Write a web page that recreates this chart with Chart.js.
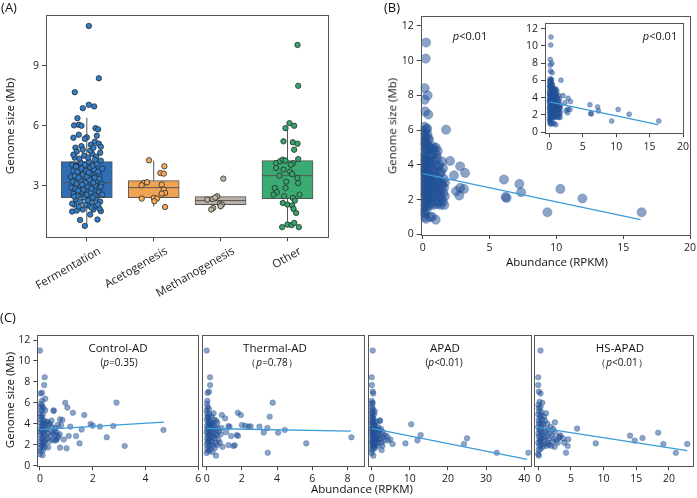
<!DOCTYPE html>
<html><head><meta charset="utf-8">
<script src="https://cdn.jsdelivr.net/npm/chart.js@4.4.1/dist/chart.umd.min.js"></script>
<style>
html,body{margin:0;padding:0;background:#fff;}
#wrap{position:relative;width:697px;height:498px;overflow:hidden;font-family:'Open Sans',sans-serif;color:#111;}
canvas{position:absolute;left:0;top:0;}
.t{position:absolute;white-space:nowrap;transform:translate(-50%,-50%);line-height:1;z-index:10;}
.v{transform:translate(-50%,-50%) rotate(-90deg);}
</style></head><body><div id="wrap"></div>
<script>
// ---------------- DATA ----------------
// Panel A: box plots
const categories = ['Fermentation','Acetogenesis','Methanogenesis','Other'];
const boxQ1 = [2.4, 2.4, 2.05, 2.35];
const boxMedian = [3.15, 2.9, 2.25, 3.5];
const boxQ3 = [4.2, 3.25, 2.45, 4.25];
const whiskerLow = [0.95, 1.95, 1.8, 0.9];
const whiskerHigh = [6.4, 4.25, 2.47, 5.8];
// strip points: [jitter, genome size]
const fermentationPts = [
 [0.03,11.0],[0.18,8.38],[-0.18,7.68],[0.03,7.05],[0.11,6.97],[-0.06,6.88],[-0.14,6.38],[-0.19,6.02],[-0.12,6.05],[-0.08,6.0],
 [0.13,5.88],[0.17,5.82],[-0.2,5.4],[-0.12,5.55],[0.0,5.42],[-0.03,5.35],[0.15,5.5],[0.12,5.2],[0.18,5.1],[0.06,5.05],
 [-0.08,4.98],[0.21,4.95],[-0.17,4.9],
 [-0.03,0.98],[0.16,1.3],[-0.1,1.28],[0.05,1.55],[-0.22,1.7],[-0.15,1.75],[0.21,1.72],[0.19,1.85],[-0.06,1.8],[0.1,1.8],[-0.19,2.05],[0.02,2.0],
 [-0.22,2.1],[-0.16,2.3],[-0.1,2.2],[-0.04,2.4],[0.02,2.25],[0.08,2.15],[0.14,2.35],[0.2,2.2],
 [-0.2,2.6],[-0.14,2.5],[-0.07,2.7],[0.0,2.55],[0.06,2.65],[0.12,2.5],[0.18,2.7],[0.23,2.55],
 [-0.23,2.9],[-0.17,2.85],[-0.11,3.0],[-0.05,2.8],[0.01,2.95],[0.07,2.85],[0.13,3.0],[0.19,2.9],
 [-0.21,3.2],[-0.15,3.1],[-0.09,3.25],[-0.02,3.15],[0.04,3.3],[0.1,3.15],[0.16,3.25],[0.22,3.1],
 [-0.24,3.45],[-0.18,3.5],[-0.12,3.4],[-0.06,3.55],[0.0,3.45],[0.06,3.6],[0.12,3.4],[0.18,3.55],
 [-0.2,3.75],[-0.14,3.7],[-0.08,3.85],[-0.01,3.75],[0.05,3.9],[0.11,3.8],[0.17,3.7],[0.23,3.85],
 [-0.22,4.05],[-0.16,4.0],[-0.09,4.15],[-0.03,4.05],[0.03,4.2],[0.09,4.0],[0.15,4.1],[0.21,4.25],
 [-0.18,4.4],[-0.11,4.35],[-0.04,4.5],[0.02,4.4],[0.08,4.6],[0.14,4.45],[0.2,4.65],
 [-0.15,4.7],[-0.06,4.8],[0.05,4.75],[0.1,4.9],[-0.12,1.95],[0.07,1.9],[0.14,2.0],[-0.02,2.05],
 [-0.19,2.45],[0.17,2.05],[-0.13,2.75],[0.09,2.4],[0.21,2.95],[-0.07,3.05],[0.03,3.65],[-0.16,3.95],[0.19,3.35],[0.12,4.3],[-0.2,4.55]
];
const acetogenesisPts = [
 [-0.07,4.27],[0.16,3.97],[0.1,3.63],[0.15,3.6],[-0.15,3.13],[-0.1,3.17],[-0.18,3.02],[0.12,3.05],
 [0.15,2.8],[0.17,2.63],[0.12,2.6],[-0.18,2.35],[0.0,2.38],[0.05,2.35],[0.01,2.22],[0.17,1.93]
];
const methanogenesisPts = [
 [0.04,3.35],[-0.12,2.33],[-0.05,2.47],[-0.08,2.4],[-0.2,2.3],[-0.01,2.1],[-0.11,1.88],[-0.14,1.8],[0.02,2.05],[0.0,1.97]
];
const otherPts = [
 [0.15,10.05],[0.16,8.0],[0.03,6.13],[0.1,6.0],[-0.03,5.88],[-0.06,5.22],[0.08,5.17],[0.15,5.1],[0.1,4.8],[0.16,4.33],
 [-0.17,4.13],[-0.11,4.22],[-0.07,4.3],[-0.03,4.25],[0.08,4.12],[-0.17,3.88],[-0.06,3.8],[0.04,3.7],[0.07,3.58],[0.15,3.38],
 [0.16,3.13],[-0.02,3.2],[-0.19,2.88],[-0.16,2.67],[-0.21,2.55],[-0.03,2.88],[0.08,2.38],[0.18,2.55],[-0.05,2.47],[-0.07,2.13],
 [0.0,2.05],[0.07,2.0],[0.09,1.83],[0.13,1.63],[-0.08,0.92],[0.0,1.05],[0.06,1.02],[0.1,1.13],[0.17,0.92],[0.11,2.25],[-0.12,3.5],[0.05,4.05]
];
const ticksA = [3, 6, 9];

// Panel B: [abundance RPKM, genome size Mb]
const allSamples = [
 [0.03,1.55],[0.08,1.85],[0.04,2.15],[0.1,2.45],[0.02,2.75],[0.07,3.0],[0.05,3.3],[0.12,3.55],[0.03,3.85],[0.09,4.15],[0.06,4.45],[0.02,4.75],[0.11,5.05],[0.04,5.35],[0.08,5.65],[0.05,5.95],[0.13,6.2],
 [0.18,1.6],[0.22,1.95],[0.17,2.3],[0.25,2.6],[0.2,2.9],[0.16,3.2],[0.24,3.45],[0.19,3.75],[0.27,4.05],[0.21,4.3],[0.15,4.6],[0.26,4.9],[0.2,5.2],[0.23,5.5],[0.18,5.8],[0.28,6.05],
 [0.33,1.75],[0.38,2.05],[0.31,2.4],[0.4,2.7],[0.35,3.05],[0.42,3.35],[0.32,3.65],[0.37,3.95],[0.44,4.25],[0.34,4.55],[0.39,4.85],[0.3,5.15],[0.41,5.45],[0.36,5.75],[0.33,6.1],
 [0.48,1.65],[0.52,2.2],[0.47,2.5],[0.55,2.85],[0.5,3.15],[0.46,3.5],[0.53,3.85],[0.49,4.2],[0.56,4.55],[0.51,5.0],[0.47,5.5],
 [0.62,1.8],[0.66,2.1],[0.6,2.45],[0.7,2.95],[0.64,3.25],[0.68,3.7],[0.61,4.1],[0.72,4.5],[0.65,4.95],
 [0.78,1.7],[0.82,2.3],[0.75,2.7],[0.85,3.05],[0.8,3.4],[0.77,3.8],[0.88,4.3],[0.83,4.85],[0.79,5.05],
 [0.92,1.9],[0.97,2.2],[0.9,2.6],[1.0,3.1],[0.95,3.6],[0.93,4.0],[1.02,4.6],[0.98,5.0],
 [1.07,1.75],[1.12,2.4],[1.05,2.8],[1.1,3.3],[1.15,3.9],[1.08,4.4],[1.13,4.8],
 [1.22,1.85],[1.27,2.2],[1.2,2.6],[1.25,3.0],[1.3,3.5],[1.23,4.0],
 [1.35,1.7],[1.4,2.1],[1.33,2.5],[1.42,2.95],[1.37,3.6],[1.45,4.2],
 [1.5,1.9],[1.55,2.4],[1.48,2.8],[1.58,3.2],[1.52,3.8],
 [1.62,1.7],[1.66,2.2],[1.6,2.7],[1.68,3.0],
 [0.06,1.3],[0.14,1.2],[0.27,1.4],[0.1,2.6],[0.15,3.9],[0.07,4.3],[0.29,3.3],[0.12,5.3],[0.01,3.6],[0.24,2.1],
 [0.25,11.04],[0.22,10.12],[0.15,8.42],[0.37,8.0],[0.15,7.75],[0.18,7.08],[0.42,6.9],[1.75,6.03],[2.05,4.23],[2.8,3.92],
 [3.17,3.54],[2.34,3.4],[2.5,2.49],[2.74,2.24],[3.09,2.62],[2.8,2.68],[6.08,3.16],[6.28,2.1],[6.2,2.16],[7.23,2.91],
 [7.36,2.43],[9.33,1.28],[10.3,2.62],[11.95,2.07],[16.38,1.28],[0.25,0.9],[0.55,1.0],[0.7,1.02],[0.97,0.85],[0.12,1.0]
];
const fitAll = [[0, 3.5], [16.3, 0.85]];
const ticksBy = [0, 2, 4, 6, 8, 10, 12];
const ticksBx = [0, 5, 10, 15, 20];

// Panel C
const controlAD = [
 [0.0,1.1],[0.03,1.4],[0.01,1.7],[0.05,2.0],[0.02,2.3],[0.06,2.6],[0.0,2.9],[0.04,3.2],[0.02,3.5],[0.07,3.8],[0.01,4.1],[0.05,4.4],[0.03,4.7],[0.0,5.0],[0.06,5.3],[0.02,5.6],[0.04,5.9],[0.08,6.2],
 [0.1,1.0],[0.12,1.5],[0.09,1.9],[0.13,2.2],[0.1,2.5],[0.14,2.8],[0.11,3.1],[0.08,3.4],[0.12,3.7],[0.1,4.0],[0.14,4.3],[0.09,4.6],[0.11,4.9],[0.13,5.5],
 [0.18,1.8],[0.2,2.4],[0.22,2.9],[0.17,3.3],[0.21,3.6],[0.19,4.0],[0.23,4.2],[0.2,5.3],[0.16,2.1],
 [0.28,2.6],[0.3,3.1],[0.26,3.5],[0.33,3.9],[0.29,4.2],[0.35,2.3],[0.31,1.75],
 [0.4,2.8],[0.42,3.3],[0.45,3.7],[0.38,4.0],[0.48,2.5],[0.5,3.05],[0.44,4.3],[0.52,5.3],
 [0.56,2.4],[0.6,2.9],[0.58,3.6],[0.63,3.2],[0.66,2.6],[0.7,2.8],[0.68,3.9],[0.62,2.45],
 [0.0,11.0],[0.18,8.44],[0.16,7.7],[0.08,6.97],[0.02,6.9],[0.2,6.4],[0.09,5.7],[0.96,6.0],[1.04,5.54],[1.25,5.06],
 [1.68,4.84],[2.9,6.02],[1.92,3.98],[2.0,3.82],[2.27,3.73],[2.78,3.79],[4.68,3.41],[3.21,1.88],[2.53,2.71],[1.5,2.13],
 [1.37,2.83],[1.01,1.66],[0.76,1.72],[1.09,2.83],[1.15,3.73],[0.8,3.85],[0.85,4.36],[0.76,4.43],[0.52,5.22],[0.54,3.31],
 [1.58,3.45],[0.9,2.5],[0.75,3.0]
];
const fitControlAD = [[0, 3.45], [4.7, 4.15]];
const thermalAD = [
 [0.0,1.2],[0.03,1.6],[0.01,2.0],[0.05,2.3],[0.02,2.6],[0.06,2.9],[0.0,3.2],[0.04,3.5],[0.02,3.8],[0.07,4.1],[0.01,4.4],[0.05,4.7],[0.03,5.0],[0.0,5.3],[0.06,5.6],[0.02,5.9],[0.04,6.2],
 [0.1,1.4],[0.13,1.8],[0.09,2.2],[0.12,2.5],[0.15,2.8],[0.1,3.1],[0.14,3.4],[0.11,3.7],[0.16,4.0],[0.12,4.3],[0.1,4.6],[0.15,4.9],[0.13,5.4],
 [0.2,1.5],[0.24,2.0],[0.22,2.4],[0.27,2.7],[0.2,3.0],[0.25,3.3],[0.23,3.6],[0.28,3.9],[0.21,4.2],[0.26,4.7],
 [0.33,1.3],[0.36,1.9],[0.31,2.3],[0.38,2.8],[0.34,3.2],[0.4,3.5],[0.32,3.8],[0.37,4.1],[0.42,4.4],[0.39,5.0],
 [0.47,1.7],[0.5,2.2],[0.46,2.6],[0.52,3.0],[0.55,3.4],[0.49,3.7],[0.54,4.3],[0.58,2.9],
 [0.62,2.0],[0.66,2.5],[0.7,3.3],[0.64,3.6],[0.75,2.2],[0.8,3.0],[0.85,3.6],[0.6,4.1],
 [0.0,11.0],[0.19,8.44],[0.19,7.7],[0.13,7.07],[0.05,6.95],[3.75,6.02],[3.58,4.68],[1.77,5.06],[1.94,4.84],[2.0,3.89],
 [2.19,3.82],[2.38,3.73],[2.5,3.75],[3.0,3.73],[3.45,3.6],[3.24,3.18],[4.06,3.15],[4.44,3.41],[8.23,2.71],[5.66,2.13],
 [3.47,1.24],[1.71,2.93],[1.78,2.85],[1.24,1.97],[1.52,1.88],[1.6,1.95],[1.39,2.83],[0.86,4.84],[1.05,4.52],[1.24,3.79],
 [0.53,0.96],[0.9,1.8],[1.3,3.7],[1.1,3.2]
];
const fitThermalAD = [[0, 3.55], [8.2, 3.3]];
const apad = [
 [0.0,1.2],[0.05,1.6],[0.1,2.0],[0.02,2.3],[0.15,2.6],[0.05,2.9],[0.1,3.2],[0.0,3.5],[0.12,3.8],[0.04,4.1],[0.08,4.4],[0.14,4.7],[0.02,5.0],[0.1,5.3],[0.05,5.6],[0.12,5.9],[0.0,6.2],
 [0.25,1.5],[0.3,1.9],[0.22,2.2],[0.35,2.5],[0.28,2.8],[0.32,3.1],[0.2,3.4],[0.38,3.7],[0.26,4.0],[0.33,4.3],[0.24,4.6],[0.3,5.0],[0.36,5.4],[0.27,6.0],
 [0.5,1.8],[0.6,2.1],[0.55,2.4],[0.7,2.7],[0.45,3.0],[0.65,3.3],[0.52,3.6],[0.75,3.9],[0.58,4.2],[0.48,4.5],[0.62,4.9],[0.8,5.2],
 [0.9,1.7],[1.0,2.0],[1.1,2.3],[0.95,2.6],[1.2,2.9],[1.05,3.2],[1.3,3.5],[0.92,3.8],[1.15,4.2],[1.25,2.5],
 [1.5,1.9],[1.7,2.2],[1.6,2.5],[1.85,2.8],[1.55,3.1],[2.0,3.4],[1.75,3.7],[2.1,4.3],[2.25,2.6],[2.4,3.0],[2.6,2.2],[2.8,1.9],[2.5,3.5],[3.0,2.7],[2.9,3.2],[3.2,2.4],
 [0.27,11.0],[0.0,8.44],[0.05,7.7],[0.27,7.07],[0.4,6.9],[10.35,3.95],[12.83,2.93],[12.0,2.42],[8.85,2.13],[5.49,2.07],
 [4.87,2.52],[4.0,2.8],[2.2,4.3],[25.0,2.61],[24.2,2.07],[32.8,1.24],[41.1,1.24],[0.44,0.96],[3.5,2.9],[4.3,2.4],[2.6,1.5]
];
const fitAPAD = [[0, 3.57], [40.8, 0.6]];
const hsApad = [
 [0.0,1.1],[0.08,1.5],[0.15,1.9],[0.03,2.2],[0.2,2.5],[0.1,2.8],[0.05,3.1],[0.18,3.4],[0.0,3.7],[0.12,4.0],[0.07,4.3],[0.22,4.6],[0.02,4.9],[0.15,5.2],[0.1,5.5],[0.05,5.8],[0.2,6.1],
 [0.35,1.6],[0.45,2.0],[0.3,2.3],[0.5,2.6],[0.4,2.9],[0.55,3.2],[0.32,3.5],[0.48,3.8],[0.38,4.1],[0.6,4.4],[0.42,4.8],[0.52,5.1],[0.36,5.6],[0.62,6.0],
 [0.75,1.8],[0.9,2.1],[0.8,2.4],[1.0,2.7],[0.85,3.0],[1.1,3.3],[0.95,3.6],[0.78,4.0],[1.05,4.3],[0.88,4.7],[1.2,5.0],
 [1.3,1.9],[1.45,2.2],[1.6,2.5],[1.35,2.8],[1.75,3.1],[1.5,3.4],[1.9,3.7],[1.4,4.0],[1.65,2.0],
 [2.0,1.9],[2.2,2.3],[2.4,2.6],[2.1,2.9],[2.6,3.2],[2.3,3.5],[2.8,2.4],[3.0,2.2],[3.2,2.7],[2.5,1.8],[3.4,2.9],
 [0.35,11.0],[0.0,8.44],[0.0,7.7],[0.1,7.07],[0.35,6.9],[2.55,4.14],[5.95,3.54],[8.8,2.13],[4.25,1.24],[4.5,1.88],
 [4.6,2.52],[3.25,2.75],[14.05,2.87],[14.75,2.39],[15.95,2.64],[18.35,3.15],[19.15,2.07],[21.05,1.24],[22.8,2.07],[0.1,0.96],[3.8,2.6],[4.0,2.2]
];
const fitHSAPAD = [[0, 3.63], [22.8, 1.43]];
const ticksCy = [0, 2, 4, 6, 8, 10, 12];
const ticksC1x = [0, 2, 4, 6];
const ticksC2x = [0, 2, 4, 6, 8];
const ticksC3x = [0, 10, 20, 30, 40];
const ticksC4x = [0, 5, 10, 15, 20];

// ---------------- RENDERING ----------------
const W = 697, H = 498;
const wrap = document.getElementById('wrap');
const FF = "'Open Sans', sans-serif";
Chart.defaults.font.family = FF;
Chart.defaults.color = '#222';

const frame = {id:'frame', afterDatasetsDraw(c){
  const a = c.chartArea, x = c.ctx; x.save(); x.strokeStyle = '#555'; x.lineWidth = 1;
  x.strokeRect(Math.round(a.left)+0.5, Math.round(a.top)+0.5, Math.round(a.right)-Math.round(a.left), Math.round(a.bottom)-Math.round(a.top));
  x.restore();
}};
const bgFill = {id:'bgFill', beforeDraw(c, args, o){
  if (!o || !o.color) return; const a = c.chartArea; c.ctx.save(); c.ctx.fillStyle = o.color;
  c.ctx.fillRect(a.left, a.top, a.right-a.left, a.bottom-a.top); c.ctx.restore();
}};

function lin(min, max, ticks, extra) {
  const s = {type:'linear', min, max, offset:false, beginAtZero:false,
    afterBuildTicks: ax => { ax.ticks = ticks.map(v => ({value:v})); },
    ticks:{font:{family:FF, size:10.5}, color:'#222', padding:3, autoSkip:false, minRotation:0, maxRotation:0},
    grid:{display:true, drawOnChartArea:false, drawTicks:true, tickLength:4, color:'#444', offset:false},
    border:{display:false}};
  if (extra) {
    if (extra.ticks) Object.assign(s.ticks, extra.ticks);
    if (extra.grid) Object.assign(s.grid, extra.grid);
  }
  return s;
}

function makeChart(rect, wy, hx, data, scales, extraPlugins, pluginOpts) {
  const cv = document.createElement('canvas');
  cv.width = W; cv.height = H; cv.style.width = W+'px'; cv.style.height = H+'px';
  wrap.appendChild(cv);
  const [l, t, r, b] = rect;
  scales.x.afterFit = s => { s.height = hx; s.paddingLeft = 0; s.paddingRight = 0; };
  scales.y.afterFit = s => { s.width = wy; s.paddingTop = 0; s.paddingBottom = 0; };
  return new Chart(cv, {
    type:'scatter', data,
    options:{responsive:false, animation:false, devicePixelRatio:1, events:[],
      layout:{padding:{left:l-wy, top:t, right:W-r, bottom:H-b-hx}},
      plugins:Object.assign({legend:{display:false}, tooltip:{enabled:false}}, pluginOpts||{}),
      scales},
    plugins:[frame].concat(extraPlugins||[])
  });
}
const xy = arr => arr.map(([x,y]) => ({x, y}));

// ---- Panel A ----
const boxFill = ['#2f6fb6', '#f0a352', '#bab2a4', '#3aab72'];
const ptFill  = ['#2f7cc8', '#f6a85c', '#bdb3a2', '#35a66b'];
const ptsA = [fermentationPts, acetogenesisPts, methanogenesisPts, otherPts];
const medianSeg = [], whiskerSeg = [];
categories.forEach((c, i) => {
  medianSeg.push({x:i-0.38, y:boxMedian[i]}, {x:i+0.38, y:boxMedian[i]}, {x:i+0.5, y:null});
  whiskerSeg.push({x:i, y:boxQ3[i]}, {x:i, y:whiskerHigh[i]}, {x:i+0.1, y:null},
                  {x:i, y:whiskerLow[i]}, {x:i, y:boxQ1[i]}, {x:i+0.2, y:null});
});
const dsA = [
  {type:'bar', data:categories.map((c,i)=>({x:i, y:[boxQ1[i], boxQ3[i]]})), backgroundColor:boxFill,
   borderColor:'#555', borderWidth:1, borderSkipped:false, barThickness:51, order:6},
  {type:'line', data:whiskerSeg, borderColor:'#555', borderWidth:1, pointRadius:0, spanGaps:false, order:5},
  {type:'line', data:medianSeg, borderColor:'#555', borderWidth:1, pointRadius:0, spanGaps:false, order:4}
];
ptsA.forEach((arr, i) => dsA.push({type:'scatter', data:arr.map(([dx,y]) => ({x:i+dx, y})),
  backgroundColor:ptFill[i], borderColor:'#2a2a2a', borderWidth:0.8, pointRadius:2.7, order:1}));
makeChart([46, 15, 328.3, 237.3], 40, 60, {datasets:dsA}, {
  x: lin(-0.61, 3.61, [0,1,2,3], {ticks:{callback:v => categories[v], minRotation:30, maxRotation:30, labelOffset:13, font:{family:FF, size:11.5}}}),
  y: lin(0.41, 11.55, ticksA)
});

// ---- Panel B ----
const ptCol = 'rgba(35,80,150,0.52)';
const ptEdge = 'rgba(35,80,150,0.6)';
const lineCol = '#3b9bd8';
function scatterSets(pts, fit, r) {
  return {datasets:[
    {type:'line', data:xy(fit), borderColor:lineCol, borderWidth:1.3, pointRadius:0, order:1},
    {type:'scatter', data:xy(pts), backgroundColor:ptCol, borderColor:ptEdge, borderWidth:0.5, pointRadius:r, order:2}
  ]};
}
makeChart([420.7, 16, 690, 235], 40, 30, scatterSets(allSamples, fitAll, 4.6), {
  x: lin(-0.15, 20, ticksBx), y: lin(-0.03, 12.57, ticksBy)
});
// inset
makeChart([545, 23, 683, 133.3], 30, 20, scatterSets(allSamples, fitAll, 2.5), {
  x: lin(-0.64, 20, ticksBx), y: lin(-0.15, 12.67, ticksBy)
}, [bgFill], {bgFill:{color:'#fff'}});

// ---- Panel C ----
const cTop = 334.8, cBot = 466.2;
const noY = {ticks:{display:false}, grid:{drawTicks:false, tickLength:0}};
makeChart([37.3, cTop, 198.3, cBot], 35, 20, scatterSets(controlAD, fitControlAD, 2.8), {
  x: lin(-0.1, 6.0, ticksC1x), y: lin(-0.05, 12.5, ticksCy)
});
makeChart([202.3, cTop, 364.3, cBot], 35, 20, scatterSets(thermalAD, fitThermalAD, 2.8), {
  x: lin(-0.25, 8.96, ticksC2x), y: lin(-0.05, 12.5, ticksCy, noY)
});
makeChart([368.3, cTop, 530.7, cBot], 35, 20, scatterSets(apad, fitAPAD, 2.8), {
  x: lin(-0.89, 41.7, ticksC3x), y: lin(-0.05, 12.5, ticksCy, noY)
});
makeChart([534.3, cTop, 695.7, cBot], 35, 20, scatterSets(hsApad, fitHSAPAD, 2.8), {
  x: lin(-0.6, 23.6, ticksC4x), y: lin(-0.05, 12.5, ticksCy, noY)
});

// ---- Text ----
const texts = [
  ['(A)', 9, 7, 13, false],
  ['(B)', 392, 7, 13, false],
  ['(C)', 8, 317, 13, false],
  ['Genome size (Mb)', 10, 126, 11.5, true],
  ['Genome size (Mb)', 392, 126, 11.5, true],
  ['Abundance (RPKM)', 557, 262, 11.5, false],
  ['<i>p</i>&lt;0.01', 470, 35, 11, false],
  ['<i>p</i>&lt;0.01', 660, 35, 11, false],
  ['Genome size (Mb)', 10, 400, 11.5, true],
  ['Abundance (RPKM)', 362, 489, 11.5, false],
  ['Control-AD', 118, 348, 11.5, false],
  ['(<i>p</i>=0.35)', 119, 362, 10, false],
  ['Thermal-AD', 275, 348, 11.5, false],
  ['（<i>p</i>=0.78）', 272, 362, 10, false],
  ['APAD', 445, 348, 11.5, false],
  ['(<i>p</i>&lt;0.01)', 444, 362, 10, false],
  ['HS-APAD', 620, 348, 11.5, false],
  ['（<i>p</i>&lt;0.01）', 622, 362, 10, false]
];
texts.forEach(([h, x, y, s, v]) => {
  const d = document.createElement('div');
  d.className = 't' + (v ? ' v' : '');
  d.innerHTML = h; d.style.left = x + 'px'; d.style.top = y + 'px'; d.style.fontSize = s + 'px';
  wrap.appendChild(d);
});
</script></body></html>
